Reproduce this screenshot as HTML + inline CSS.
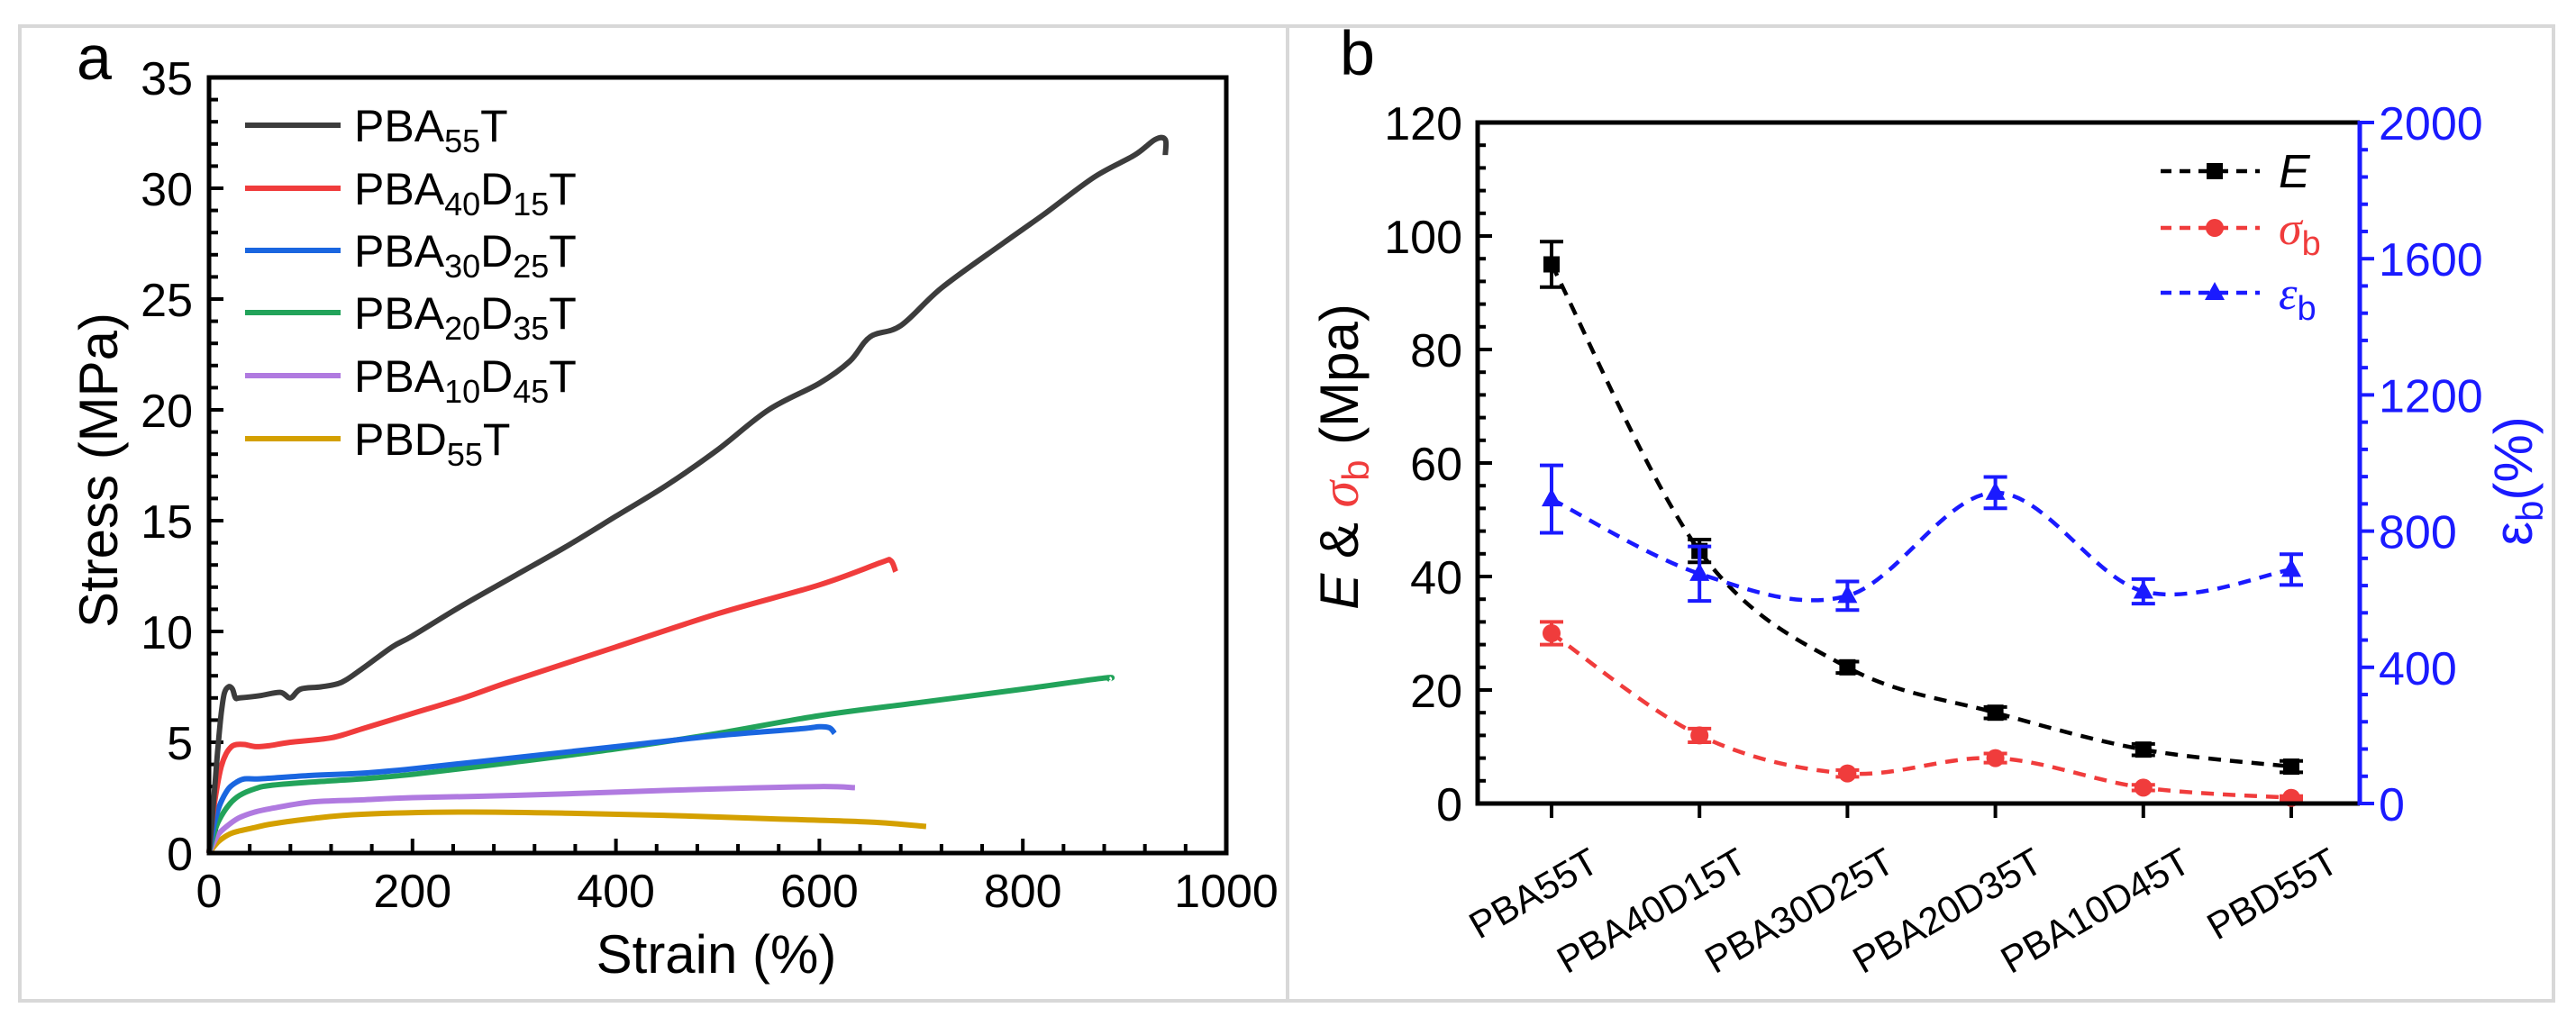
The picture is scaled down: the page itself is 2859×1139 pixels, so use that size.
<!DOCTYPE html>
<html><head><meta charset="utf-8"><style>
html,body{margin:0;padding:0;background:#fff}
svg{display:block;font-family:"Liberation Sans",Arial,sans-serif}
</style></head><body>
<svg id="fig" width="2859" height="1139" viewBox="0 0 2859 1139" xmlns="http://www.w3.org/2000/svg">
<rect x="22" y="29" width="2812" height="1082" fill="none" stroke="#d8d8d8" stroke-width="4"/>
<line x1="1429" y1="29" x2="1429" y2="1111" stroke="#d8d8d8" stroke-width="4"/>
<g id="pa"></g>
<g id="pb"></g>
</svg>
<script>
// ---------- Panel a data ----------
const aSeriesNames = ["PBA55T","PBA40D15T","PBA30D25T","PBA20D35T","PBA10D45T","PBD55T"];
const aColors = ["#3c3c3c","#f03c3c","#1a66e0","#22a35a","#b07ae0","#d4a000"];
const aStrain0 = [0,3,6,9,12,15,19,23,26,30,50,70,80,90,110,130,150,180,200,250,300,350,400,450,500,550,600,630,650,680,720,780,820,870,910,930,940,940];
const aStress0 = [0,1.5,3.2,4.9,6.3,7.2,7.5,7.4,7.0,7.0,7.1,7.25,7.0,7.4,7.5,7.7,8.3,9.3,9.8,11.2,12.5,13.8,15.2,16.6,18.2,20.0,21.2,22.2,23.3,23.8,25.5,27.5,28.8,30.5,31.5,32.2,32.2,31.5];
const aStrain1 = [0,4,8,12,17,22,27,35,46,60,80,120,150,200,250,300,400,500,600,660,670,675];
const aStress1 = [0,1.8,3.0,3.9,4.5,4.8,4.9,4.9,4.8,4.85,5.0,5.2,5.6,6.3,7.0,7.8,9.3,10.8,12.1,13.1,13.2,12.7];
const aStrain2 = [0,5,10,15,20,27,35,50,100,150,200,300,400,500,580,600,610,615];
const aStress2 = [0,1.3,2.1,2.6,2.95,3.2,3.35,3.35,3.5,3.6,3.8,4.3,4.8,5.3,5.6,5.7,5.65,5.4];
const aStrain3 = [0,5,10,20,30,45,60,100,150,200,300,400,500,600,700,800,880,885];
const aStress3 = [0,0.9,1.5,2.2,2.6,2.9,3.05,3.2,3.35,3.55,4.1,4.7,5.4,6.2,6.8,7.4,7.9,7.85];
const aStrain4 = [0,5,10,20,30,45,60,100,150,200,300,400,500,600,635];
const aStress4 = [0,0.5,0.9,1.3,1.6,1.85,2.0,2.3,2.4,2.5,2.6,2.75,2.9,3.0,2.95];
const aStrain5 = [0,5,10,20,30,45,60,100,150,250,350,450,550,650,705];
const aStress5 = [0,0.3,0.55,0.85,1.0,1.15,1.3,1.55,1.75,1.85,1.8,1.7,1.55,1.4,1.2];
const aXTicks = [0,200,400,600,800,1000];
const aYTicks = [0,5,10,15,20,25,30,35];

// ---------- Panel b data ----------
const bCategories = ["PBA55T","PBA40D15T","PBA30D25T","PBA20D35T","PBA10D45T","PBD55T"];
const bE = [95,44.5,24,16,9.5,6.5];
const bEErr = [4,2,1,1,1,1];
const bSigma = [30,12,5.3,8,2.8,1];
const bSigmaErr = [2,1.2,0.6,0.8,0.5,0.3];
const bEps = [894,675,610,913,623,687];
const bEpsErr = [99,80,42,46,36,45];
const bLeftTicks = [0,20,40,60,80,100,120];
const bRightTicks = [0,400,800,1200,1600,2000];

const NS="http://www.w3.org/2000/svg";
function mk(parent,tag,attrs){const e=document.createElementNS(NS,tag);for(const k in attrs)e.setAttribute(k,attrs[k]);parent.appendChild(e);return e;}
function spline(pts){let d='M'+pts[0][0].toFixed(1)+','+pts[0][1].toFixed(1);for(let i=0;i<pts.length-1;i++){const p0=pts[Math.max(0,i-1)],p1=pts[i],p2=pts[i+1],p3=pts[Math.min(pts.length-1,i+2)];
const c1=[p1[0]+(p2[0]-p0[0])/6,p1[1]+(p2[1]-p0[1])/6],c2=[p2[0]-(p3[0]-p1[0])/6,p2[1]-(p3[1]-p1[1])/6];
d+=` C${c1[0].toFixed(1)},${c1[1].toFixed(1)} ${c2[0].toFixed(1)},${c2[1].toFixed(1)} ${p2[0].toFixed(1)},${p2[1].toFixed(1)}`;}return d;}

// ===== Panel a =====
const pa=document.getElementById('pa');
const ax0=232, ax1=1361, ay0=947, ay1=86;
const xa=v=>ax0+(v/1000)*(ax1-ax0);
const ya=v=>ay0-(v/35)*(ay0-ay1);
let t;
t=mk(pa,'text',{x:85,y:88,'font-size':70});t.textContent='a';


for(let v=0;v<=35;v+=1){const l=mk(pa,'line',{x1:ax0,x2:ax0+(v%5===0?16:10),y1:ya(v),y2:ya(v),stroke:'#000','stroke-width':4});

}
for(let v=0;v<=1000;v+=40){const l=mk(pa,'line',{x1:xa(v),x2:xa(v),y1:ay0,y2:ay0-(v%200===0?16:10),stroke:'#000','stroke-width':4});

}
aYTicks.forEach(v=>{const e=mk(pa,'text',{x:214,y:ya(v)+19,'font-size':52,'text-anchor':'end'});e.textContent=v;

});
aXTicks.forEach(v=>{const e=mk(pa,'text',{x:xa(v),y:1007,'font-size':52,'text-anchor':'middle'});e.textContent=v;

});
t=mk(pa,'text',{x:795,y:1080,'font-size':60,'text-anchor':'middle'});t.textContent='Strain (%)';


t=mk(pa,'text',{x:0,y:0,'font-size':60,'text-anchor':'middle',transform:'translate(130,522) rotate(-90)'});t.textContent='Stress (MPa)';


const aXs=[aStrain0,aStrain1,aStrain2,aStrain3,aStrain4,aStrain5];
const aYs=[aStress0,aStress1,aStress2,aStress3,aStress4,aStress5];
for(let s=5;s>=0;s--){const pts=aXs[s].map((x,i)=>[xa(x),ya(aYs[s][i])]);
const p=mk(pa,'path',{d:spline(pts),fill:'none',stroke:aColors[s],'stroke-width':6,'stroke-linejoin':'round'});

}
const subs=[['PBA','55','T'],['PBA','40','D','15','T'],['PBA','30','D','25','T'],['PBA','20','D','35','T'],['PBA','10','D','45','T'],['PBD','55','T']];
const legY=[139,209,278,347,417,487];
subs.forEach((parts,i)=>{const g=mk(pa,'g',{});


mk(g,'line',{x1:272,x2:378,y1:legY[i],y2:legY[i],stroke:aColors[i],'stroke-width':6});
const tx=mk(g,'text',{x:393,y:legY[i]+18,'font-size':50});
parts.forEach((p,j)=>{const ts=mk(tx,'tspan',{});ts.textContent=p;if(j%2===1){ts.setAttribute('font-size','36');ts.setAttribute('dy','12');}else if(j>0){ts.setAttribute('dy','-12');}});});
mk(pa,'rect',{x:ax0,y:ay1,width:ax1-ax0,height:ay0-ay1,fill:'none',stroke:'#000','stroke-width':5,});

// ===== Panel b =====
const pb=document.getElementById('pb');
const bx0=1640,bx1=2619,by0=892,by1=136;
const xb=i=>1722+i*164.2;
const yl=v=>by0-(v/120)*(by0-by1);
const yr=v=>by0-(v/2000)*(by0-by1);
t=mk(pb,'text',{x:1487,y:83,'font-size':70});t.textContent='b';


for(let v=0;v<=120;v+=4){const l=mk(pb,'line',{x1:bx0,x2:bx0+(v%20===0?16:9),y1:yl(v),y2:yl(v),stroke:'#000','stroke-width':4});

}
for(let v=0;v<=2000;v+=80){const l=mk(pb,'line',{x1:bx1,x2:bx1+(v%400===0?16:9),y1:yr(v),y2:yr(v),stroke:'#1a1aff','stroke-width':4});

}
bLeftTicks.forEach(v=>{const e=mk(pb,'text',{x:1623,y:yl(v)+19,'font-size':52,'text-anchor':'end'});e.textContent=v;

});
bRightTicks.forEach(v=>{const e=mk(pb,'text',{x:2640,y:yr(v)+19,'font-size':52,fill:'#1a1aff'});e.textContent=v;

});
bCategories.forEach((c,i)=>{const l=mk(pb,'line',{x1:xb(i),x2:xb(i),y1:by0,y2:by0+16,stroke:'#000','stroke-width':4});


const e=mk(pb,'text',{x:0,y:0,'font-size':42,'text-anchor':'end',transform:`translate(${xb(i)+55},965) rotate(-30)`});e.textContent=c;

});
t=mk(pb,'text',{x:0,y:0,'font-size':60,'text-anchor':'middle',transform:'translate(1507,507) rotate(-90)'});


t.innerHTML='<tspan font-style="italic">E</tspan> &amp; <tspan fill="#f03c3c" font-family="Liberation Serif" font-style="italic">σ</tspan><tspan fill="#f03c3c" font-size="42" dy="12">b</tspan><tspan dy="-12"> (Mpa)</tspan>';
t=mk(pb,'text',{x:0,y:0,'font-size':60,'text-anchor':'middle',fill:'#1a1aff',transform:'translate(2810,534) rotate(-90)'});


t.innerHTML='ε<tspan font-size="42" dy="12">b</tspan><tspan dy="-12">(%)</tspan>';
const series=[{n:'e',v:bE,e:bEErr,y:yl,c:'#000',m:'sq'},{n:'sigma-b',v:bSigma,e:bSigmaErr,y:yl,c:'#f03c3c',m:'ci'},{n:'epsilon-b',v:bEps,e:bEpsErr,y:yr,c:'#1a1aff',m:'tr'}];
function marker(g,type,x,y,c){if(type==='sq')return mk(g,'rect',{x:x-9,y:y-9,width:18,height:18,fill:c});
if(type==='ci')return mk(g,'circle',{cx:x,cy:y,r:10,fill:c});
return mk(g,'path',{d:`M${x},${y-12} L${x+11},${y+8} L${x-11},${y+8} Z`,fill:c});}
series.forEach(s=>{const pts=s.v.map((v,i)=>[xb(i),s.y(v)]);
const p=mk(pb,'path',{d:spline(pts),fill:'none',stroke:s.c,'stroke-width':4.5,'stroke-dasharray':'14,10'});


s.v.forEach((v,i)=>{const g=mk(pb,'g',{});


const x=xb(i),yt=s.y(v+s.e[i]),yb=s.y(v-s.e[i]);
mk(g,'path',{d:`M${x},${yt} L${x},${yb} M${x-13},${yt} L${x+13},${yt} M${x-13},${yb} L${x+13},${yb}`,stroke:s.c,'stroke-width':4,fill:'none'});
marker(g,s.m,x,s.y(v),s.c);});});
const legB=[[190,'#000','sq'],[253,'#f03c3c','ci'],[325,'#1a1aff','tr']];
legB.forEach((l,i)=>{const g=mk(pb,'g',{});


mk(g,'line',{x1:2398,x2:2508,y1:l[0],y2:l[0],stroke:l[1],'stroke-width':4.5,'stroke-dasharray':'12,9'});
marker(g,l[2],2458,l[0],l[1]);
const tx=mk(g,'text',{x:2529,y:l[0]+18,'font-size':52,fill:l[1]});
if(i===0){tx.setAttribute('font-style','italic');tx.textContent='E';}
else if(i===1){tx.innerHTML='<tspan font-family="Liberation Serif" font-style="italic">σ</tspan><tspan font-size="38" dy="12">b</tspan>';}
else{tx.innerHTML='<tspan font-family="Liberation Serif" font-style="italic">ε</tspan><tspan font-size="38" dy="12">b</tspan>';}});
mk(pb,'path',{d:`M${bx1},${by1} L${bx0},${by1} L${bx0},${by0} L${bx1},${by0}`,fill:'none',stroke:'#000','stroke-width':5,});
mk(pb,'line',{x1:bx1,x2:bx1,y1:by1-2,y2:by0+2,stroke:'#1a1aff','stroke-width':5,});
</script>
</body></html>
